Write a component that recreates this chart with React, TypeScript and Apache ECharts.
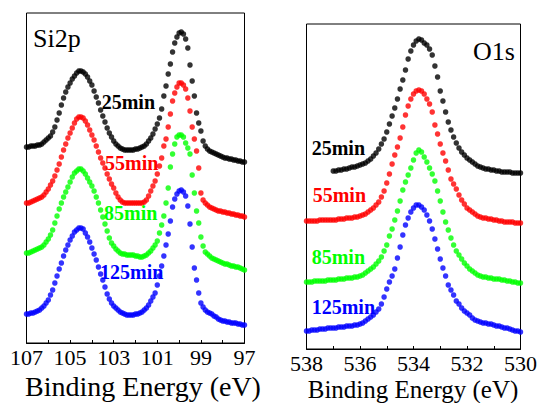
import React, { useEffect, useRef } from 'react';
import * as echarts from 'echarts';

// ---------- Si2p panel (binding energy 107 -> 97 eV, step 0.1 eV) ----------
const siStart = 107;
const siStep = 0.1;
const si25min = [
  196, 196, 197, 197, 197, 198, 198, 199, 201, 203,
  205, 207, 211, 216, 223, 230, 238, 245, 251, 256,
  260, 264, 267, 270, 272, 272, 271, 269, 266, 262,
  258, 252, 246, 240, 233, 227, 221, 215, 210, 206,
  202, 199, 197, 195, 194, 193, 193, 193, 193, 193,
  194, 194, 195, 196, 197, 199, 202, 205, 209, 214,
  219, 225, 234, 247, 257, 269, 279, 291, 300, 306,
  310, 311, 309, 304, 295, 278, 262, 247, 230, 220,
  212, 202, 197, 194, 192, 191, 190, 189, 188, 187,
  186, 185, 185, 184, 184, 183, 183, 182, 182, 181,
  181,
];
const si55min = [
  140, 140, 141, 142, 143, 144, 145, 146, 148, 151,
  154, 158, 162, 167, 173, 179, 186, 193, 199, 205,
  210, 215, 220, 224, 226, 226, 225, 222, 218, 213,
  208, 203, 197, 191, 185, 180, 175, 169, 164, 159,
  155, 150, 146, 143, 141, 140, 140, 140, 140, 140,
  140, 140, 140, 140, 141, 143, 147, 152, 157, 162,
  169, 177, 185, 197, 204, 216, 229, 242, 250, 256,
  260, 260, 258, 254, 245, 232, 216, 204, 192, 175,
  150, 143, 140, 138, 136, 135, 134, 133, 132, 132,
  131, 131, 130, 130, 129, 129, 128, 128, 127, 127,
  126,
];
const si85min = [
  90, 90, 91, 92, 93, 94, 95, 96, 98, 101,
  104, 108, 113, 120, 127, 134, 140, 146, 151, 156,
  161, 166, 170, 172, 174, 174, 172, 169, 165, 161,
  157, 152, 146, 140, 133, 126, 119, 112, 105, 100,
  97, 94, 92, 90, 89, 89, 88, 88, 88, 88,
  87, 87, 86, 86, 87, 88, 90, 92, 95, 98,
  102, 110, 118, 127, 140, 155, 176, 189, 199, 206,
  208, 208, 206, 200, 195, 189, 168, 150, 132, 120,
  106, 97, 91, 89, 87, 85, 84, 83, 82, 81,
  80, 79, 79, 78, 77, 77, 76, 76, 75, 74,
  73,
];
const si125min = [
  29, 29, 30, 30, 31, 32, 33, 35, 37, 40,
  43, 48, 53, 60, 67, 74, 80, 87, 93, 98,
  103, 107, 111, 113, 115, 115, 114, 110, 106, 101,
  95, 89, 83, 76, 69, 63, 56, 49, 44, 40,
  37, 35, 33, 31, 30, 29, 28, 28, 28, 28,
  29, 29, 30, 31, 33, 35, 38, 42, 46, 50,
  58, 67, 77, 87, 98, 109, 122, 136, 144, 149,
  152, 153, 151, 147, 137, 119, 96, 75, 63, 50,
  40, 36, 33, 31, 30, 29, 27, 26, 24, 23,
  22, 22, 21, 21, 20, 20, 20, 19, 19, 18,
  18,
];

// ---------- O1s panel (binding energy 538 -> 530 eV, step 0.1 eV) ----------
const oStart = 538;
const o25Start = 537;
const oStep = 0.1;
const o25min = [
  178, 178, 179, 179, 180, 180, 181, 182, 182, 183,
  184, 185, 186, 188, 190, 193, 196, 200, 205, 210,
  217, 225, 233, 241, 250, 260, 269, 279, 290, 298,
  304, 308, 310, 309, 306, 304, 300, 294, 283, 272,
  258, 248, 237, 227, 219, 212, 206, 201, 197, 194,
  191, 189, 187, 185, 183, 182, 181, 180, 180, 179,
  179, 178, 178, 177, 177, 177, 177, 176, 176, 176,
  176,
];
const o55min = [
  128, 128, 128, 128, 128, 129, 129, 129, 129, 129,
  129, 129, 130, 130, 130, 131, 131, 131, 132, 132,
  133, 134, 135, 137, 139, 141, 144, 147, 152, 158,
  166, 175, 185, 194, 202, 211, 222, 234, 243, 250,
  255, 258, 259, 258, 255, 250, 245, 237, 224, 215,
  205, 196, 188, 179, 170, 165, 160, 154, 149, 145,
  141, 139, 137, 135, 133, 132, 131, 131, 130, 130,
  129, 129, 128, 128, 127, 127, 127, 127, 126, 126,
  126,
];
const o85min = [
  67, 67, 67, 68, 68, 68, 68, 68, 69, 69,
  69, 69, 70, 70, 70, 71, 71, 71, 72, 72,
  73, 74, 76, 78, 80, 82, 85, 88, 92, 98,
  104, 113, 120, 129, 138, 148, 159, 167, 174, 181,
  189, 196, 199, 197, 192, 187, 181, 175, 168, 158,
  148, 137, 127, 119, 111, 104, 98, 94, 90, 86,
  83, 80, 78, 76, 74, 73, 72, 72, 71, 71,
  70, 70, 70, 69, 69, 68, 68, 67, 67, 66,
  66,
];
const o125min = [
  18, 18, 19, 19, 19, 20, 20, 20, 21, 21,
  21, 21, 22, 22, 22, 23, 23, 23, 24, 24,
  25, 26, 28, 30, 32, 34, 37, 40, 45, 52,
  60, 67, 73, 80, 91, 102, 114, 124, 131, 137,
  141, 144, 144, 142, 139, 134, 128, 120, 110, 100,
  90, 81, 73, 64, 59, 54, 48, 45, 41, 38,
  36, 34, 31, 29, 28, 27, 26, 26, 25, 25,
  24, 23, 23, 22, 21, 21, 20, 19, 18, 18,
  17,
];

const siTickLabels = [107, 105, 103, 101, 99, 97];
const oTickLabels = [538, 536, 534, 532, 530];
const timeLabels = ['25min', '55min', '85min', '125min'];
const seriesColors = ['#000000', '#ff0000', '#00ff00', '#0000ff'];
const axisTitle = 'Binding Energy (eV)';

const serif = '"Liberation Serif", "Times New Roman", serif';

const toPairs = (start: number, step: number, values: number[]) =>
  values.map((v, i) => [Math.round((start - i * step) * 10) / 10, v]);

export default function App() {
  const ref = useRef<HTMLDivElement>(null);

  useEffect(() => {
    if (!ref.current) return;
    const chart = echarts.init(ref.current, undefined, { renderer: 'svg' });

    const siSets = [si25min, si55min, si85min, si125min];
    const oSets = [o25min, o55min, o85min, o125min];
    const oStarts = [o25Start, oStart, oStart, oStart];

    const series: any[] = [];
    siSets.forEach((vals, k) => {
      series.push({
        type: 'scatter',
        name: 'Si2p ' + timeLabels[k],
        xAxisIndex: 0,
        yAxisIndex: 0,
        symbol: 'circle',
        symbolSize: 5.5,
        silent: true,
        itemStyle: { color: seriesColors[k] },
        data: toPairs(siStart, siStep, vals),
      });
    });
    oSets.forEach((vals, k) => {
      series.push({
        type: 'scatter',
        name: 'O1s ' + timeLabels[k],
        xAxisIndex: 1,
        yAxisIndex: 1,
        symbol: 'circle',
        symbolSize: 5.5,
        silent: true,
        itemStyle: { color: seriesColors[k] },
        data: toPairs(oStarts[k], oStep, vals),
      });
    });

    const xAxisBase = (gridIndex: number, min: number, max: number, labels: number[]) => ({
      type: 'value',
      gridIndex,
      min,
      max,
      interval: 1,
      inverse: true,
      axisLine: { show: true, lineStyle: { color: '#000', width: 1 } },
      axisTick: { show: true, inside: true, length: 3, lineStyle: { color: '#000', width: 1 } },
      splitLine: { show: false },
      axisLabel: {
        color: '#000',
        fontFamily: serif,
        fontSize: 22,
        margin: 3,
        formatter: (v: number) => (labels.includes(v) ? String(v) : ''),
      },
    });

    const siLabelPos = [
      [101.7, 101.7],
      [105, 163.3],
      [104, 213.3],
      [100, 271.7],
    ];
    const oLabelPos = [
      [311.7, 148.3],
      [312.7, 195],
      [311.7, 257.3],
      [311.7, 306.7],
    ];

    const graphics: any[] = [];
    siLabelPos.forEach((p, k) => {
      graphics.push({
        type: 'text',
        x: p[0],
        y: p[1],
        z: 100,
        style: {
          text: timeLabels[k],
          fill: seriesColors[k],
          font: `bold 20px ${serif}`,
          textAlign: 'left',
          textVerticalAlign: 'middle',
        },
      });
    });
    oLabelPos.forEach((p, k) => {
      graphics.push({
        type: 'text',
        x: p[0],
        y: p[1],
        z: 100,
        style: {
          text: timeLabels[k],
          fill: seriesColors[k],
          font: `bold 20px ${serif}`,
          textAlign: 'left',
          textVerticalAlign: 'middle',
        },
      });
    });
    graphics.push(
      {
        type: 'text',
        x: 33,
        y: 38.5,
        style: { text: 'Si2p', fill: '#000', font: `26px ${serif}`, textAlign: 'left', textVerticalAlign: 'middle' },
      },
      {
        type: 'text',
        x: 473,
        y: 51,
        style: { text: 'O1s', fill: '#000', font: `26px ${serif}`, textAlign: 'left', textVerticalAlign: 'middle' },
      },
      {
        type: 'text',
        x: 143,
        y: 386.5,
        style: { text: axisTitle, fill: '#000', font: `28px ${serif}`, textAlign: 'center', textVerticalAlign: 'middle' },
      },
      {
        type: 'text',
        x: 413,
        y: 389,
        style: { text: axisTitle, fill: '#000', font: `25px ${serif}`, textAlign: 'center', textVerticalAlign: 'middle' },
      }
    );

    chart.setOption({
      animation: false,
      backgroundColor: '#ffffff',
      grid: [
        { left: 26.5, top: 13, width: 218, height: 330, show: true, borderColor: '#000', borderWidth: 1, backgroundColor: 'transparent' },
        { left: 306.5, top: 24, width: 216, height: 325, show: true, borderColor: '#000', borderWidth: 1, backgroundColor: 'transparent' },
      ],
      xAxis: [xAxisBase(0, 97, 107, siTickLabels), xAxisBase(1, 530, 538, oTickLabels)],
      yAxis: [
        { type: 'value', gridIndex: 0, min: 0, max: 330, show: false },
        { type: 'value', gridIndex: 1, min: 0, max: 325, show: false },
      ],
      graphic: graphics,
      series,
    });

    return () => {
      chart.dispose();
    };
  }, []);

  return (
    <div
      ref={ref}
      style={{ position: 'absolute', left: 0, top: 0, width: 540, height: 403, background: '#fff' }}
    />
  );
}
